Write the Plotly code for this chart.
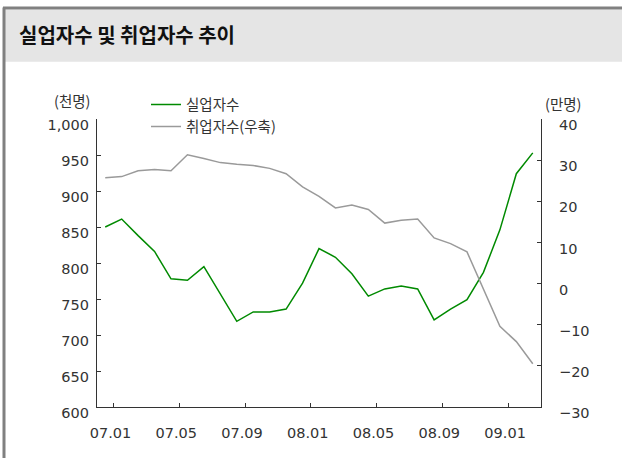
import plotly.graph_objects as go

# ---- data ----
months = ["07.01", "07.02", "07.03", "07.04", "07.05", "07.06", "07.07", "07.08", "07.09",
          "07.10", "07.11", "07.12", "08.01", "08.02", "08.03", "08.04", "08.05", "08.06",
          "08.07", "08.08", "08.09", "08.10", "08.11", "08.12", "09.01", "09.02", "09.03"]
unemployed = [850, 861, 838, 816, 778, 776, 795, 757, 719, 732, 732, 736, 772, 820, 808,
              785, 754, 764, 768, 764, 721, 736, 749, 787, 846, 924, 953]  # 천명 (left)
employed_change = [25.7, 26.0, 27.4, 27.7, 27.4, 31.3, 30.4, 29.4, 29.0, 28.7, 28.0, 26.7,
                   23.5, 21.2, 18.4, 19.1, 18.0, 14.7, 15.4, 15.7, 11.1, 9.7, 7.7, -1.5,
                   -10.4, -14.1, -19.5]  # 만명 (right)
tick_labels = ["07.01", "07.05", "07.09", "08.01", "08.05", "08.09", "09.01"]
series_names = ["실업자수", "취업자수(우축)"]
title_text = "실업자수 및 취업자수 추이"

# ---- layout geometry (pixels) ----
WIDTH, HEIGHT = 622, 458
L, R, T, B = 97, 541, 119.3, 407
PW, PH = R - L, B - T


def xp(px):
    return (px - L) / PW


def yp(py):
    return (B - py) / PH


x_idx = list(range(len(months)))
tick_pos = [months.index(t) + 0.5 for t in tick_labels]

fig = go.Figure()
fig.add_trace(go.Scatter(x=x_idx, y=unemployed, name=series_names[0], mode="lines",
                         line=dict(color="#008a00", width=1.5), yaxis="y"))
fig.add_trace(go.Scatter(x=x_idx, y=employed_change, name=series_names[1], mode="lines",
                         line=dict(color="#9a9a9a", width=1.5), yaxis="y2"))

tick_font = dict(family="DejaVu Sans", size=14.5, color="#333333")
axis_common = dict(showline=True, linecolor="#333333", linewidth=1.2, ticks="inside",
                   ticklen=4, tickcolor="#333333", tickwidth=1.2, showgrid=False,
                   zeroline=False, tickfont=tick_font)

fig.update_layout(
    width=WIDTH, height=HEIGHT,
    margin=dict(l=L, r=WIDTH - R, t=T, b=HEIGHT - B, pad=0),
    paper_bgcolor="white", plot_bgcolor="white",
    font=dict(family="Noto Sans CJK KR", color="#333333"),
    xaxis=dict(range=[-0.5, len(months) - 0.5], tickvals=tick_pos, ticktext=tick_labels,
               ticklabelstandoff=12, ticklabelshift=-3, **axis_common),
    yaxis=dict(range=[600, 1000], dtick=50, tickformat=",", ticklabelstandoff=4,
               ticklabelshift=6, **axis_common),
    yaxis2=dict(range=[-30, 40], dtick=10, overlaying="y", side="right", anchor="x",
                ticklabelstandoff=14, ticklabelshift=6, **axis_common),
    legend=dict(x=xp(146), y=yp(89), xanchor="left", yanchor="top",
                bgcolor="rgba(0,0,0,0)", font=dict(family="Noto Sans CJK KR", size=14.5,
                                                   color="#333333"),
                itemwidth=30, tracegroupgap=0),
    showlegend=True,
)

# frame & title bar
fig.add_shape(type="rect", xref="paper", yref="paper", x0=xp(5), x1=xp(622),
              y0=yp(62), y1=yp(10), fillcolor="#e5e5e5", line=dict(width=0), layer="below")
fig.add_shape(type="line", xref="paper", yref="paper", x0=xp(3), x1=xp(622),
              y0=yp(8.5), y1=yp(8.5), line=dict(color="#808080", width=3))
fig.add_shape(type="line", xref="paper", yref="paper", x0=xp(4), x1=xp(4),
              y0=yp(8), y1=yp(458), line=dict(color="#808080", width=3))

fig.add_annotation(text=f"<b>{title_text}</b>", xref="paper", yref="paper", x=xp(17),
                   y=yp(35), xanchor="left", yanchor="middle", showarrow=False,
                   font=dict(family="Noto Sans CJK KR", size=20, color="#111111"))
fig.add_annotation(text="(천명)", xref="paper", yref="paper", x=xp(71.5), y=yp(101),
                   xanchor="center", yanchor="middle", showarrow=False,
                   font=dict(family="Noto Sans CJK KR", size=14.5, color="#333333"))
fig.add_annotation(text="(만명)", xref="paper", yref="paper", x=xp(563), y=yp(104),
                   xanchor="center", yanchor="middle", showarrow=False,
                   font=dict(family="Noto Sans CJK KR", size=14.5, color="#333333"))

fig.write_html("out.html", config={"displayModeBar": False},
               post_script="document.body.style.margin='0';document.body.style.padding='0';")
